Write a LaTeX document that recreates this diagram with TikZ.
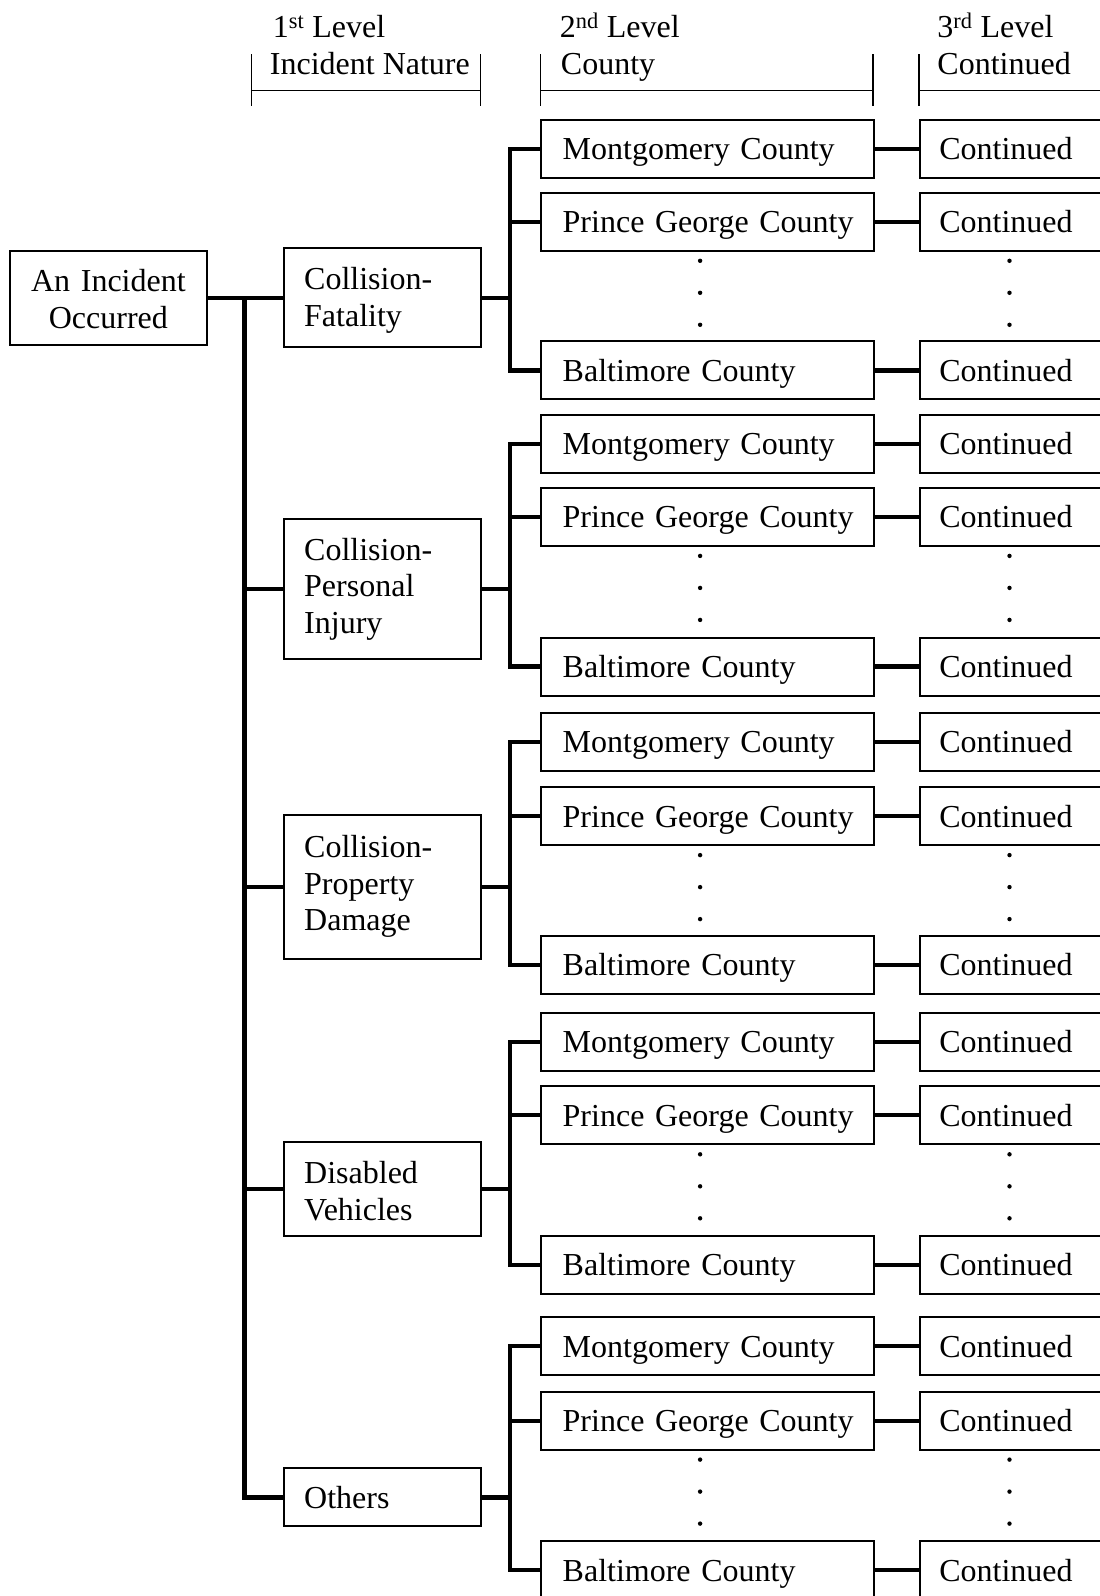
\documentclass[tikz,border=0pt]{standalone}
\usepackage{fontspec}
\setmainfont{Liberation Serif}
\begin{document}
\begin{tikzpicture}[x=1pt,y=-1pt,
  every node/.style={font=\fontsize{32}{36.6}\selectfont},
  box/.style={draw, line width=2pt, inner ysep=0pt, anchor=west, text height=21.9pt},
  rootbox/.style={draw, line width=2pt, anchor=center, text width=196.4pt,
    minimum height=93.7pt, align=center, inner sep=0pt, text height=21.9pt},
  naturebox/.style={box, text width=156.8pt, inner xsep=20.3pt, align=left},
  countybox/.style={box, text width=290pt, inner xsep=21.4pt, align=left,
    minimum height=58pt, text depth=0pt},
  contbox/.style={box, text width=160pt, inner xsep=19.4pt, align=left,
    minimum height=58pt, text depth=0pt},
  conn/.style={line width=4.2pt},
  rule/.style={line width=1.6pt},
  head/.style={anchor=base west, inner sep=0pt}
]
\useasboundingbox (0,0) rectangle (1100,1596);
\clip (0,0) rectangle (1100,1596);
\fill[white] (0,0) rectangle (1100,1596);

% column headings with their brackets
\node[head] (h1a) at (272.7,37.5) {1\textsuperscript{st} Level};
\node[head] (h1b) at (269.7,74.5) {Incident Nature};
\node[head] (h2a) at (559.7,37.5) {2\textsuperscript{nd} Level};
\node[head] (h2b) at (560.7,74.5) {County};
\node[head] (h3a) at (937.2,37.5) {3\textsuperscript{rd} Level};
\node[head] (h3b) at (937.2,74.5) {Continued};
\draw[rule] (251.3,54) -- (251.3,106) (480.3,54) -- (480.3,106) (251.3,90.6) -- (480.3,90.6);
\draw[rule] (540.3,54) -- (540.3,106) (873.1,54) -- (873.1,106) (540.3,90.6) -- (873.1,90.6);
\draw[rule] (918.9,54) -- (918.9,106) (918.9,90.6) -- (1100,90.6);

% root and incident-nature level
\node[rootbox, text depth=33.6pt] (root) at (108.4,297.7) {An Incident\\Occurred};
\node[naturebox, minimum height=98.7pt, text depth=38.5pt] (cf) at (282.9,297.7) {Collision-\\Fatality};
\node[naturebox, minimum height=140.4pt, text depth=80.1pt] (cpi) at (282.9,589.2) {Collision-\\Personal\\Injury};
\node[naturebox, minimum height=143.5pt, text depth=80.1pt] (cpd) at (282.9,886.8) {Collision-\\Property\\Damage};
\node[naturebox, minimum height=94.7pt, text depth=32.6pt] (dv) at (282.9,1189.0) {Disabled\\Vehicles};
\node[naturebox, minimum height=58pt, text depth=0pt] (oth) at (282.9,1497.4) {Others};

\coordinate (trunk) at (244.5,0);
\coordinate (bx) at (510,0);

\draw[conn] (root.east) -- (trunk |- root.east) |- (oth.west);
\foreach \n in {cf,cpi,cpd,dv}
  \draw[conn] (trunk |- \n.west) -- (\n.west);

% county level and continuation level
\foreach \g/\up/\ym/\yp/\yb in {1/cf/148.6/221.8/370.4, 2/cpi/443.7/516.9/666.5,
    3/cpd/741.8/816.1/964.7, 4/dv/1042.0/1115.3/1264.9, 5/oth/1346.3/1420.6/1570.2}{
  \node[countybox] (m\g) at (540.3,\ym) {\mbox{Montgomery County}};
  \node[countybox] (p\g) at (540.3,\yp) {\mbox{Prince George County}};
  \node[countybox] (b\g) at (540.3,\yb) {\mbox{Baltimore County}};
  \node[contbox] (cm\g) at (918.9,\ym) {Continued};
  \node[contbox] (cp\g) at (918.9,\yp) {Continued};
  \node[contbox] (cb\g) at (918.9,\yb) {Continued};
  \draw[conn] (m\g.west) -| (bx |- b\g.west) -- (b\g.west);
  \draw[conn] (bx |- p\g.west) -- (p\g.west);
  \draw[conn] (\up.east) -- (bx |- \up.east);
  \draw[conn] (m\g.east) -- (cm\g.west);
  \draw[conn] (p\g.east) -- (cp\g.west);
  \draw[conn] (b\g.east) -- (cb\g.west);
  \foreach \d in {39,71,103}{
    \fill (700.1,\yp+\d) circle (2.2pt);
    \fill (1009.5,\yp+\d) circle (2.2pt);
  }
}
\end{tikzpicture}
\end{document}
